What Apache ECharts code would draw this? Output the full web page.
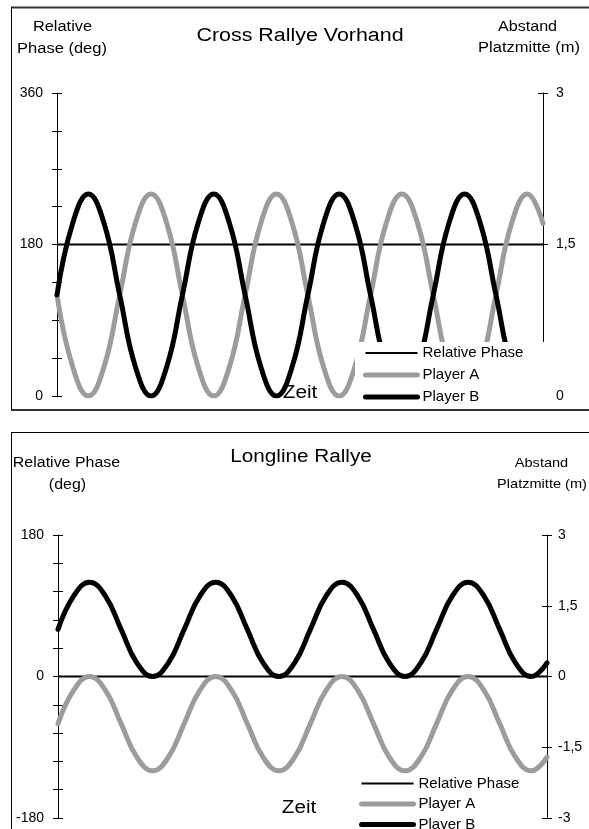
<!DOCTYPE html>
<html>
<head>
<meta charset="utf-8">
<script src="https://cdn.jsdelivr.net/npm/echarts@6/dist/echarts.min.js"></script>
<style>
html,body{margin:0;padding:0;background:#fff;}
#c{width:589px;height:829px;}
</style>
</head>
<body>
<div id="c"></div>
<script>
// ---- data ----
var timeSteps = [0,1,2,3,4,5,6,7,8,9,10,11,12,13,14,15,16,17,18,19,20,21,22,23,24,25,26,27,28,29,30,31];

var crossRelPhase = [180,180,180,180,180,180,180,180,180,180,180,180,180,180,180,180,180,180,180,180,180,180,180,180,180,180,180,180,180,180,180,180];
var crossPlayerA = [1,0.29,0,0.29,1,1.71,2,1.71, 1,0.29,0,0.29,1,1.71,2,1.71, 1,0.29,0,0.29,1,1.71,2,1.71, 1,0.29,0,0.29,1,1.71,2,1.71];
var crossPlayerB = [1,1.71,2,1.71,1,0.29,0,0.29, 1,1.71,2,1.71,1,0.29,0,0.29, 1,1.71,2,1.71,1,0.29,0,0.29, 1,1.71,2,1.71,1,0.29,0,0.29];

var longRelPhase = [0,0,0,0,0,0,0,0,0,0,0,0,0,0,0,0,0,0,0,0,0,0,0,0,0,0,0,0,0,0,0,0];
var longPlayerA = [-1,-0.29,0,-0.29,-1,-1.71,-2,-1.71, -1,-0.29,0,-0.29,-1,-1.71,-2,-1.71, -1,-0.29,0,-0.29,-1,-1.71,-2,-1.71, -1,-0.29,0,-0.29,-1,-1.71,-2,-1.71];
var longPlayerB = [1,1.71,2,1.71,1,0.29,0,0.29, 1,1.71,2,1.71,1,0.29,0,0.29, 1,1.71,2,1.71,1,0.29,0,0.29, 1,1.71,2,1.71,1,0.29,0,0.29];

var seriesNames = ['Relative Phase', 'Player A', 'Player B'];

// ---- styles ----
var FONT = 'Liberation Sans, Arial, sans-serif';
var GRAY = '#9c9c9c';
var THICK = 5;
var THIN = 2;

function txt(str, cx, cy, size, sx) {
  return {
    type: 'text', x: cx, y: cy, scaleX: sx, z: 50,
    style: { text: str, fontSize: size, fontFamily: FONT, fill: '#000', align: 'center', verticalAlign: 'middle' }
  };
}
function hline(x1, x2, y, w, color) {
  return { type: 'line', z: 60, shape: { x1: x1, y1: y, x2: x2, y2: y }, style: { stroke: color, lineWidth: w } };
}
function vline(x, y1, y2, w, color) {
  return { type: 'line', z: 60, shape: { x1: x, y1: y1, x2: x, y2: y2 }, style: { stroke: color, lineWidth: w } };
}
function comma(v) { return String(v).replace('.', ','); }

function yAx(grid, pos, min, max, interval, opts) {
  return {
    type: 'value', gridIndex: grid, position: pos, min: min, max: max, interval: interval,
    splitLine: { show: false },
    axisLine: { show: opts.line, lineStyle: { color: '#000', width: 1 } },
    axisTick: { show: true, inside: opts.inside, length: 5, lineStyle: { color: '#000', width: 1 } },
    axisLabel: { show: opts.label, margin: opts.margin || 8, color: '#000', fontSize: 14, fontFamily: FONT,
      formatter: opts.fmt }
  };
}

var leftFmt180 = function (v) { return (v % 180 === 0) ? String(v) : ''; };

var legendData = [
  { name: 'Relative Phase', lineStyle: { width: THIN, color: '#000' } },
  { name: 'Player A', lineStyle: { width: THICK, color: GRAY, cap: 'round' } },
  { name: 'Player B', lineStyle: { width: THICK, color: '#000', cap: 'round' } }
];
var hiddenSymbol = { color: 'transparent', borderWidth: 0, opacity: 0 };

var option = {
  animation: false,
  backgroundColor: '#fff',
  grid: [
    { left: 57, right: 589 - 543, top: 93, height: 303 },
    { left: 58, right: 589 - 547, top: 535, height: 283 }
  ],
  xAxis: [
    { type: 'category', gridIndex: 0, data: timeSteps, boundaryGap: false, show: false },
    { type: 'category', gridIndex: 1, data: timeSteps, boundaryGap: false, show: false }
  ],
  yAxis: [
    yAx(0, 'left', 0, 360, 45, { line: true, inside: false, label: true, margin: 14, fmt: leftFmt180 }),
    yAx(0, 'right', 0, 3, 1.5, { line: true, inside: false, label: true, margin: 13, fmt: comma }),
    yAx(0, 'left', 0, 360, 45, { line: false, inside: true, label: false }),
    yAx(0, 'right', 0, 3, 1.5, { line: false, inside: true, label: false }),
    yAx(1, 'left', -180, 180, 36, { line: true, inside: false, label: true, margin: 14, fmt: leftFmt180 }),
    yAx(1, 'right', -3, 3, 1.5, { line: true, inside: false, label: true, margin: 11, fmt: comma }),
    yAx(1, 'left', -180, 180, 36, { line: false, inside: true, label: false }),
    yAx(1, 'right', -3, 3, 1.5, { line: false, inside: true, label: false })
  ],
  legend: [
    {
      data: legendData, orient: 'vertical', left: 355, top: 342, height: 120,
      padding: [3, 30, 2, 8], backgroundColor: '#fff',
      itemWidth: 52, itemHeight: 16, itemGap: 6,
      itemStyle: hiddenSymbol,
      textStyle: { fontSize: 15, fontFamily: FONT, color: '#000', lineHeight: 16 },
      selectedMode: false
    },
    {
      data: legendData, orient: 'vertical', left: 359, top: 776, height: 120,
      padding: 0, backgroundColor: 'transparent',
      itemWidth: 52, itemHeight: 14, itemGap: 5.5,
      itemStyle: hiddenSymbol,
      textStyle: { fontSize: 15, fontFamily: FONT, color: '#000', lineHeight: 14 },
      selectedMode: false
    }
  ],
  series: [
    { name: 'Relative Phase', type: 'line', xAxisIndex: 0, yAxisIndex: 0, data: crossRelPhase,
      symbol: 'none', lineStyle: { color: '#000', width: THIN }, itemStyle: { color: '#000' } },
    { name: 'Player A', type: 'line', xAxisIndex: 0, yAxisIndex: 1, data: crossPlayerA, smooth: 0.45,
      symbol: 'none', lineStyle: { color: GRAY, width: THICK, cap: 'round' }, itemStyle: { color: GRAY } },
    { name: 'Player B', type: 'line', xAxisIndex: 0, yAxisIndex: 1, data: crossPlayerB, smooth: 0.45,
      symbol: 'none', lineStyle: { color: '#000', width: THICK, cap: 'round' }, itemStyle: { color: '#000' } },

    { name: 'Relative Phase', type: 'line', xAxisIndex: 1, yAxisIndex: 4, data: longRelPhase,
      symbol: 'none', lineStyle: { color: '#000', width: THIN }, itemStyle: { color: '#000' } },
    { name: 'Player A', type: 'line', xAxisIndex: 1, yAxisIndex: 5, data: longPlayerA, smooth: 0.45,
      symbol: 'none', lineStyle: { color: GRAY, width: THICK, cap: 'round' }, itemStyle: { color: GRAY } },
    { name: 'Player B', type: 'line', xAxisIndex: 1, yAxisIndex: 5, data: longPlayerB, smooth: 0.45,
      symbol: 'none', lineStyle: { color: '#000', width: THICK, cap: 'round' }, itemStyle: { color: '#000' } }
  ],
  graphic: [
    // frames
    hline(11, 589, 7.5, 2, '#333'),
    hline(11, 589, 410, 2, '#333'),
    vline(11.5, 7, 410, 1, '#000'),
    hline(11, 589, 432.5, 1, '#000'),
    vline(11.5, 432, 829, 1, '#000'),
    // top chart texts
    txt('Cross Rallye Vorhand', 300, 36, 18, 1.19),
    txt('Relative', 62.5, 27, 14, 1.17),
    txt('Phase (deg)', 62, 49, 14, 1.18),
    txt('Abstand', 527.5, 27, 14, 1.15),
    txt('Platzmitte (m)', 529, 48, 14, 1.18),
    txt('Zeit', 300, 393, 18, 1.15),
    // bottom chart texts
    txt('Longline Rallye', 301, 457, 18, 1.15),
    txt('Relative Phase', 66.5, 463, 14, 1.14),
    txt('(deg)', 67.5, 485, 14, 1.14),
    txt('Abstand', 541.5, 463, 13, 1.12),
    txt('Platzmitte (m)', 542, 484, 13, 1.12),
    txt('Zeit', 299, 808, 18, 1.15)
  ]
};

var chart = echarts.init(document.getElementById('c'), null, { renderer: 'canvas' });
chart.setOption(option);
</script>
</body>
</html>
